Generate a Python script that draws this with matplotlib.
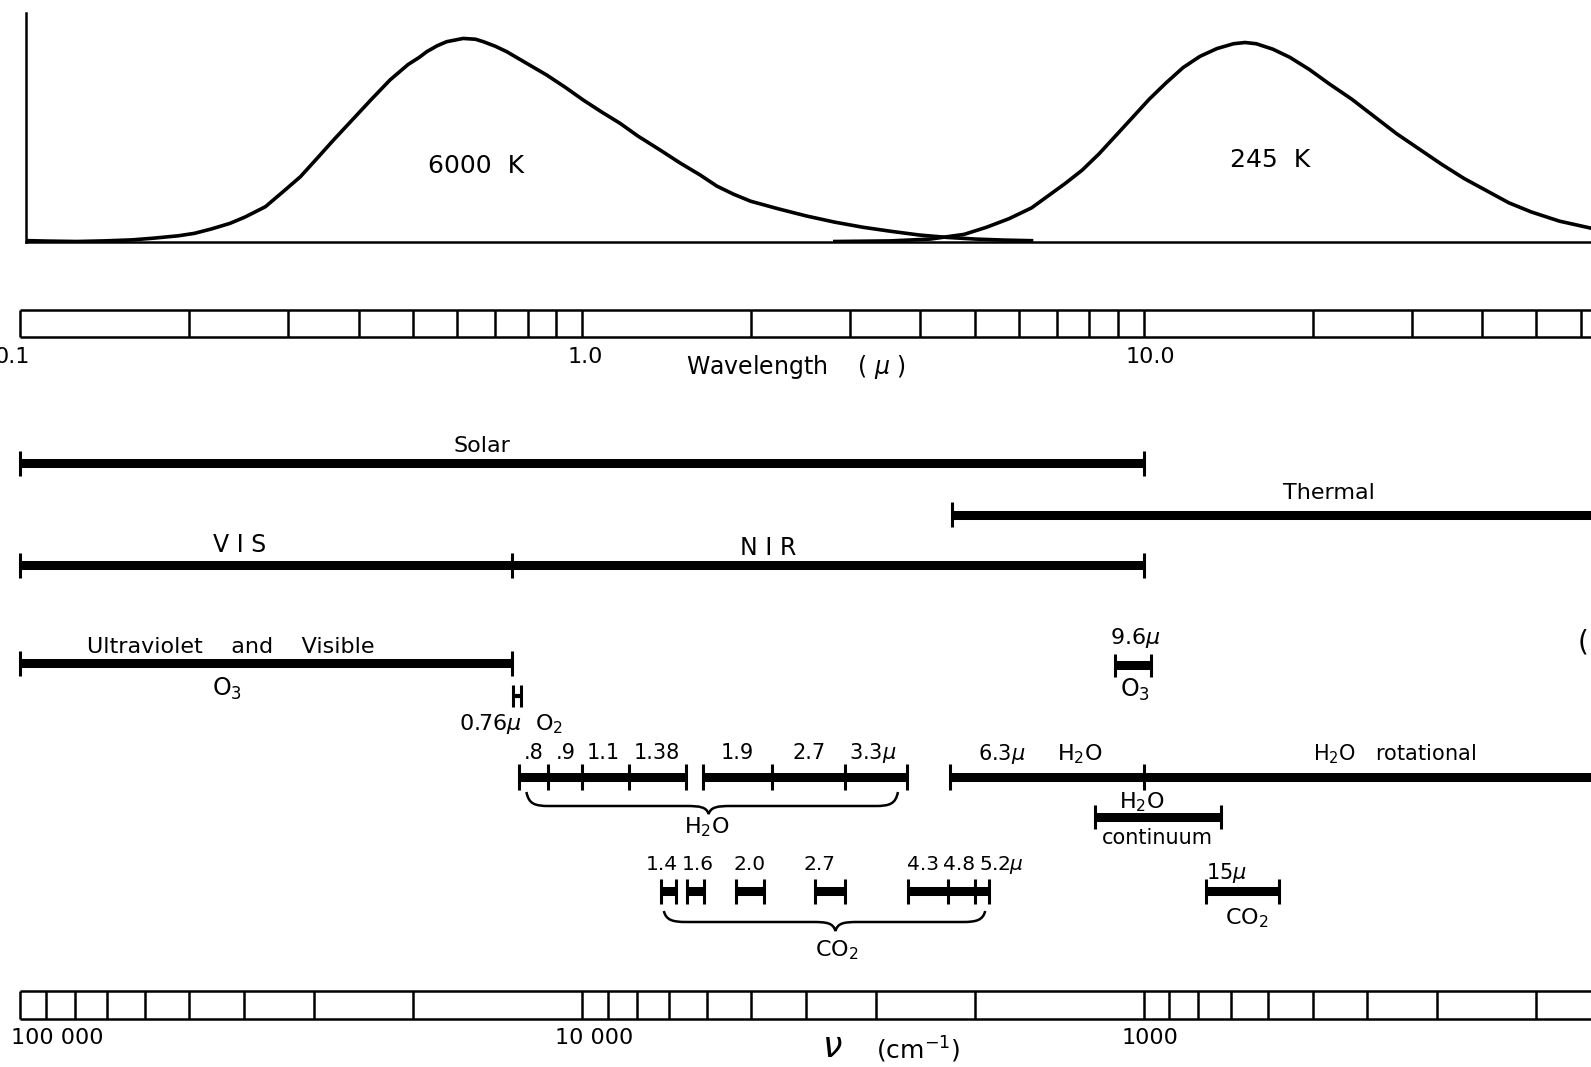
import numpy as np
import matplotlib.pyplot as plt
from matplotlib.path import Path
from matplotlib.patches import PathPatch

plt.rcParams['font.family'] = ['DejaVu Sans']
plt.rcParams['mathtext.fontset'] = 'dejavusans'

# Black body curves: wavelength (micron), relative intensity
sun_wl = [0.100, 0.112, 0.126, 0.141, 0.158, 0.172, 0.191, 0.204, 0.219, 0.236,
          0.251, 0.273, 0.295, 0.315, 0.339, 0.361, 0.392, 0.422, 0.455, 0.490,
          0.513, 0.529, 0.552, 0.574, 0.614, 0.646, 0.667, 0.700, 0.734, 0.794,
          0.865, 0.933, 1.005, 1.084, 1.168, 1.259, 1.376, 1.496, 1.622, 1.738,
          1.862, 1.995, 2.239, 2.512, 2.818, 3.162, 3.548, 3.981, 4.467, 5.012,
          5.623, 6.31]
sun_I = [0.005, 0.002, 0.0, 0.003, 0.008, 0.016, 0.028, 0.04, 0.062, 0.089,
         0.12, 0.171, 0.25, 0.318, 0.415, 0.499, 0.605, 0.70, 0.794, 0.87,
         0.905, 0.933, 0.962, 0.982, 0.998, 0.994, 0.982, 0.96, 0.933, 0.878,
         0.818, 0.758, 0.695, 0.636, 0.581, 0.517, 0.45, 0.385, 0.327, 0.272,
         0.232, 0.198, 0.16, 0.125, 0.095, 0.07, 0.05, 0.032, 0.02, 0.012,
         0.007, 0.004]

earth_wl = [2.818, 3.548, 4.169, 4.786, 5.248, 5.754, 6.310, 6.761, 7.244, 7.762,
            8.318, 8.913, 9.550, 10.23, 10.96, 11.75, 12.59, 13.49, 14.45, 15.14,
            15.85, 16.98, 18.20, 19.72, 21.38, 23.44, 25.70, 28.18, 30.90, 33.88,
            37.15, 40.74, 44.67, 48.98, 54.95, 62.66]
earth_I = [0.0, 0.003, 0.012, 0.035, 0.07, 0.112, 0.165, 0.225, 0.285, 0.35,
           0.43, 0.52, 0.61, 0.70, 0.78, 0.855, 0.91, 0.948, 0.972, 0.978,
           0.972, 0.945, 0.905, 0.845, 0.775, 0.70, 0.615, 0.53, 0.455, 0.38,
           0.31, 0.25, 0.19, 0.145, 0.10, 0.065]

# scale ticks
wl_ticks = [0.2, 0.3, 0.4, 0.5, 0.6, 0.7, 0.8, 0.9, 1.0, 2, 3, 4, 5, 6, 7, 8, 9, 10,
            20, 30, 40, 50, 60]
wn_ticks = [90000, 80000, 70000, 60000, 50000, 40000, 30000, 20000, 10000,
            9000, 8000, 7000, 6000, 5000, 4000, 3000, 2000, 1000,
            900, 800, 700, 600, 500, 400, 300, 200]

# spectral regions (micron)
solar_band = (0.1, 10.0)
thermal_band = (4.55, 100.0)
vis_band = (0.1, 0.75)
nir_band = (0.75, 10.0)
uv_o3_band = (0.1, 0.75)
o2_band = (0.752, 0.78)
o3_96_band = (8.9, 10.3)
h2o_nir_bands = [(0.773, 1.534), (1.643, 3.785)]
h2o_nir_ticks = [0.869, 1.0, 1.213, 2.178, 2.94]
h2o_nir_labels = ['.8', '.9', '1.1', '1.38', '1.9', '2.7', r'3.3$\mu$']
h2o_nir_label_wl = [0.82, 0.935, 1.09, 1.358, 1.888, 2.531, 3.294]
h2o_ir_band = (4.51, 100.0)
h2o_cont_band = (8.2, 13.7)
co2_bands = [(1.38, 1.47), (1.54, 1.65), (1.88, 2.11), (2.6, 2.94), (3.81, 5.3)]
co2_ticks = [4.49, 5.0]
co2_labels = ['1.4', '1.6', '2.0', '2.7', '4.3', '4.8']
co2_label_wl = [1.388, 1.608, 1.987, 2.641, 4.044, 4.68]
co2_15_band = (12.9, 17.4)

XMIN, XMAX = 0.09198, 62.54
W, H = 1591, 1067

fig = plt.figure(figsize=(W / 100, H / 100), dpi=100)
fig.patch.set_facecolor('white')

ax = fig.add_axes([0, 0, 1, 1])
ax.set_xscale('log')
ax.set_xlim(XMIN, XMAX)
ax.set_ylim(H, 0)
ax.axis('off')

# top panel with the two curves
axt = fig.add_axes([25.5 / W, (H - 241.5) / H, 1 - 25.5 / W, 228.5 / H])
axt.set_xscale('log')
axt.set_xlim(0.1021, XMAX)
axt.set_ylim(0, 1.123)
axt.patch.set_alpha(0)
for s in ['top', 'right']:
    axt.spines[s].set_visible(False)
for s in ['left', 'bottom']:
    axt.spines[s].set_linewidth(1.8)
axt.set_xticks([])
axt.set_yticks([])
axt.minorticks_off()
axt.plot(sun_wl, sun_I, color='black', lw=2.6, solid_joinstyle='round')
axt.plot(earth_wl, earth_I, color='black', lw=2.6, solid_joinstyle='round')

ax.text(0.6467, 166, '6000  K', fontsize=18, ha='center', va='center')
ax.text(16.76, 160, '245  K', fontsize=18, ha='center', va='center')


def scale_box(lo, ticks, y0, y1):
    ax.hlines([y0, y1], lo, 100, color='black', lw=1.8)
    ax.vlines([lo] + list(ticks), y0, y1, color='black', lw=1.8)


scale_box(0.1, wl_ticks, 310, 337)
scale_box(1e4 / 100000, [1e4 / v for v in wn_ticks], 991, 1019)

ax.text(0.0966, 357, '0.1', fontsize=16, ha='center', va='center')
ax.text(1.014, 357, '1.0', fontsize=16, ha='center', va='center')
ax.text(10.26, 357, '10.0', fontsize=16, ha='center', va='center')
ax.text(2.408, 367, r'Wavelength    ( $\mu$ )', fontsize=17, ha='center', va='center')

ax.text(0.1406, 1038, '100 000', fontsize=16, ha='right', va='center')
ax.text(1.052, 1038, '10 000', fontsize=16, ha='center', va='center')
ax.text(10.26, 1038, '1000', fontsize=16, ha='center', va='center')
ax.text(2.784, 1047, r'$\nu$', fontsize=25, ha='center', va='center')
ax.text(3.96, 1050, r'(cm$^{-1}$)', fontsize=18, ha='center', va='center')


def band(lo, hi, y, ticks=(), left=True, right=True, lw=6.5, half=12.5):
    ax.hlines(y, lo, hi, color='black', lw=lw)
    ends = ([lo] if left else []) + ([hi] if right else [])
    ax.vlines(ends + list(ticks), y - half, y + half, color='black', lw=2.2)


band(*solar_band, 463)
band(*thermal_band, 514.5, right=False)
band(*vis_band, 565, right=False)
band(*nir_band, 565)
band(*uv_o3_band, 663)
band(*o2_band, 696, lw=3, half=11)
band(*o3_96_band, 665, half=11.5)
for lo, hi in h2o_nir_bands:
    band(lo, hi, 777, ticks=[t for t in h2o_nir_ticks if lo < t < hi], half=13)
band(*h2o_ir_band, 777, ticks=[10.0], right=False, half=13)
band(*h2o_cont_band, 817, half=12)
for lo, hi in co2_bands:
    band(lo, hi, 891, ticks=[t for t in co2_ticks if lo < t < hi], half=12.5)
band(*co2_15_band, 891, half=12.5)

ax.text(0.6636, 446, 'Solar', fontsize=16, ha='center', va='center')
ax.text(21.36, 493, 'Thermal', fontsize=16, ha='center', va='center')
ax.text(0.246, 545, 'V I S', fontsize=17, ha='center', va='center')
ax.text(2.143, 548, 'N I R', fontsize=17, ha='center', va='center')
ax.text(0.2371, 647, 'Ultraviolet    and    Visible', fontsize=16, ha='center', va='center')
ax.text(0.2333, 689, 'O$_3$', fontsize=17, ha='center', va='center')
ax.text(0.7465, 724, r'0.76$\mu$  O$_2$', fontsize=16, ha='center', va='center')
ax.text(9.646, 638, r'9.6$\mu$', fontsize=16, ha='center', va='center')
ax.text(9.646, 690, 'O$_3$', fontsize=17, ha='center', va='center')
ax.text(60.5, 642, '(', fontsize=20, ha='center', va='center')

for s, wl in zip(h2o_nir_labels, h2o_nir_label_wl):
    ax.text(wl, 753, s, fontsize=15, ha='center', va='center')
ax.text(5.58, 754, r'6.3$\mu$', fontsize=15, ha='center', va='center')
ax.text(7.70, 754, 'H$_2$O', fontsize=16, ha='center', va='center')
ax.text(28.0, 754, 'H$_2$O   rotational', fontsize=15, ha='center', va='center')
ax.text(9.93, 802, 'H$_2$O', fontsize=16, ha='center', va='center')
ax.text(10.59, 838, 'continuum', fontsize=15, ha='center', va='center')

for s, wl in zip(co2_labels, co2_label_wl):
    ax.text(wl, 865, s, fontsize=14.5, ha='center', va='center')
ax.text(5.088, 865, r'5.2$\mu$', fontsize=14.5, ha='left', va='center')
ax.text(14.01, 873, r'15$\mu$', fontsize=15, ha='center', va='center')
ax.text(15.27, 918, 'CO$_2$', fontsize=16, ha='center', va='center')


def brace(x0, x1, xm, ytop, ybar, ytip):
    u0, u1, um = np.log10([x0, x1, xm])
    d = 0.04
    verts = [(u0, ytop), (u0 + 0.004, ybar - 2), (u0 + 0.015, ybar), (u0 + d, ybar),
             (um - d, ybar),
             (um - 0.015, ybar), (um - 0.004, ybar + 1), (um, ytip),
             (um + 0.004, ybar + 1), (um + 0.015, ybar), (um + d, ybar),
             (u1 - d, ybar),
             (u1 - 0.015, ybar), (u1 - 0.004, ybar - 2), (u1, ytop)]
    codes = [Path.MOVETO, Path.CURVE4, Path.CURVE4, Path.CURVE4,
             Path.LINETO,
             Path.CURVE4, Path.CURVE4, Path.CURVE4,
             Path.CURVE4, Path.CURVE4, Path.CURVE4,
             Path.LINETO,
             Path.CURVE4, Path.CURVE4, Path.CURVE4]
    verts = [(10 ** u, y) for u, y in verts]
    ax.add_patch(PathPatch(Path(verts, codes), fill=False, lw=1.8, ec='black'))


brace(0.796, 3.65, 1.68, 792, 806, 814)
ax.text(1.667, 827, 'H$_2$O', fontsize=16, ha='center', va='center')
brace(1.398, 5.22, 2.825, 911, 922, 931)
ax.text(2.843, 950, 'CO$_2$', fontsize=16, ha='center', va='center')

plt.savefig('out.png', dpi=100, facecolor='white')
